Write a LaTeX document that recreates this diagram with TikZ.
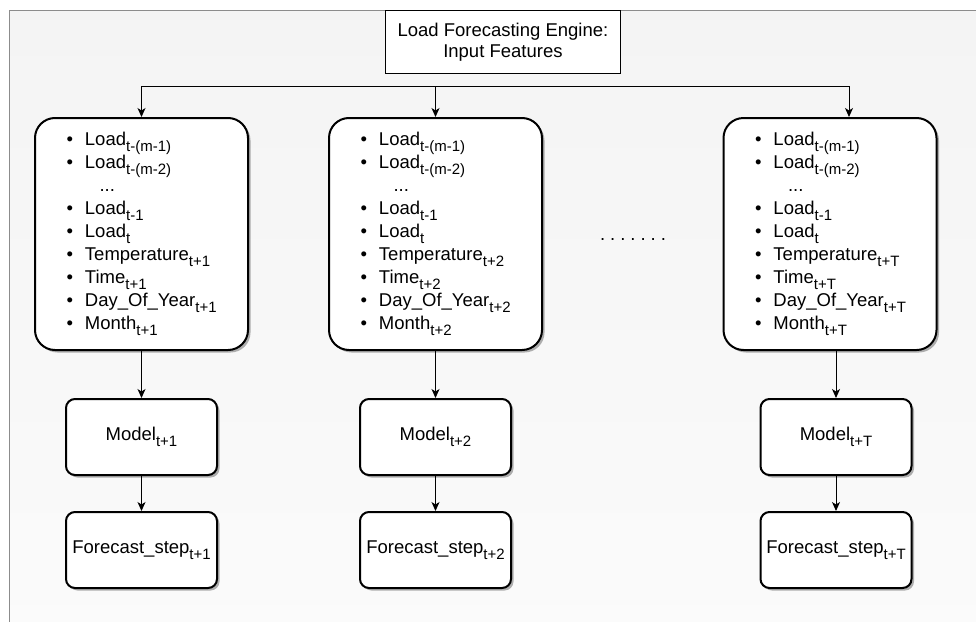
\documentclass[tikz,border=0pt]{standalone}
\usepackage{fontspec}
\setmainfont{Liberation Sans}
\usetikzlibrary{shadows, positioning, arrows.meta}

\definecolor{panelline}{HTML}{8C8C8C}
\definecolor{paneltop}{HTML}{F4F4F4}
\definecolor{panelbot}{HTML}{FBFBFB}

\newcommand{\subtx}[1]{\raisebox{-0.32em}{\fontsize{15}{15}\selectfont #1}}
\newcommand{\fitem}[1]{\mbox{\textbullet\hspace{12pt}#1}}
\newcommand{\featlist}[1]{%
  \fitem{Load\subtx{t-(m-1)}}\\
  \fitem{Load\subtx{t-(m-2)}}\\
  \mbox{\hspace*{33pt}...}\\
  \fitem{Load\subtx{t-1}}\\
  \fitem{Load\subtx{t}}\\
  \fitem{Temperature\subtx{#1}}\\
  \fitem{Time\subtx{#1}}\\
  \fitem{Day\_Of\_Year\subtx{#1}}\\
  \fitem{Month\subtx{#1}}}

\begin{document}
\begin{tikzpicture}[x=1pt, y=-1pt, font=\fontsize{18.5}{23}\selectfont]
  \tikzstyle{titlebox} = [rectangle, draw=black, line width=1pt, fill=white, align=center, inner xsep=12pt, minimum height=63pt, font=\fontsize{18.5}{21}\selectfont]
  \tikzstyle{featbox} = [rectangle, rounded corners=20pt, draw=black, line width=2pt, fill=white, minimum width=213pt, minimum height=232pt, text width=150pt, align=left, drop shadow={shadow xshift=2.5pt, shadow yshift=-2.5pt, opacity=0.3, fill=black}]
  \tikzstyle{stepbox} = [rectangle, rounded corners=9pt, draw=black, line width=2pt, fill=white, minimum width=151pt, minimum height=76pt, align=center, drop shadow={shadow xshift=2.5pt, shadow yshift=-2.5pt, opacity=0.3, fill=black}]
  \tikzstyle{connector} = [line width=1pt, -{Stealth[length=9pt, width=8pt, inset=2.5pt]}]

  \useasboundingbox (0,0) rectangle (976,621);
  \clip (0,0) rectangle (976,621);

  % Background panel
  \draw[panelline, line width=1pt, top color=paneltop, bottom color=panelbot] (9,10) rectangle (1000,650);

  % Title
  \node (engine) at (385,10) [titlebox, anchor=north west] {Load Forecasting Engine:\\Input Features};

  % Feature boxes
  \node (feat1) at (141.5,234) [featbox] {\featlist{t+1}};
  \node (feat2) at (435.5,234) [featbox] {\featlist{t+2}};
  \node (featT) at (830,234) [featbox] {\featlist{t+T}};
  \node (dots) at (633,240) {.\hspace{5pt}.\hspace{5pt}.\hspace{5pt}.\hspace{5pt}.\hspace{5pt}.\hspace{5pt}.};

  % Models
  \node (model1) at (141.5,437) [stepbox] {Model\subtx{t+1}};
  \node (model2) at (435.5,437) [stepbox] {Model\subtx{t+2}};
  \node (modelT) at (836,437) [stepbox] {Model\subtx{t+T}};

  % Forecasts
  \node (fc1) at (141.5,550) [stepbox] {Forecast\_step\subtx{t+1}};
  \node (fc2) at (435.5,550) [stepbox] {Forecast\_step\subtx{t+2}};
  \node (fcT) at (836,550) [stepbox] {Forecast\_step\subtx{t+T}};

  % Bus line
  \coordinate (busL) at (141.5,86);
  \coordinate (bus2) at (435.5,86);
  \coordinate (busR) at (849,86);
  \draw[line width=1pt] (busL) -- (busR);

  % Arrows
  \draw[connector] (busL) -- (feat1);
  \draw[connector] (bus2) -- (feat2);
  \draw[connector] (busR) -- (busR |- featT.north);
  \draw[connector] (modelT |- featT.south) -- (modelT);
  \draw[connector] (feat1) -- (model1);
  \draw[connector] (feat2) -- (model2);
  \draw[connector] (model1) -- (fc1);
  \draw[connector] (model2) -- (fc2);
  \draw[connector] (modelT) -- (fcT);
\end{tikzpicture}
\end{document}
